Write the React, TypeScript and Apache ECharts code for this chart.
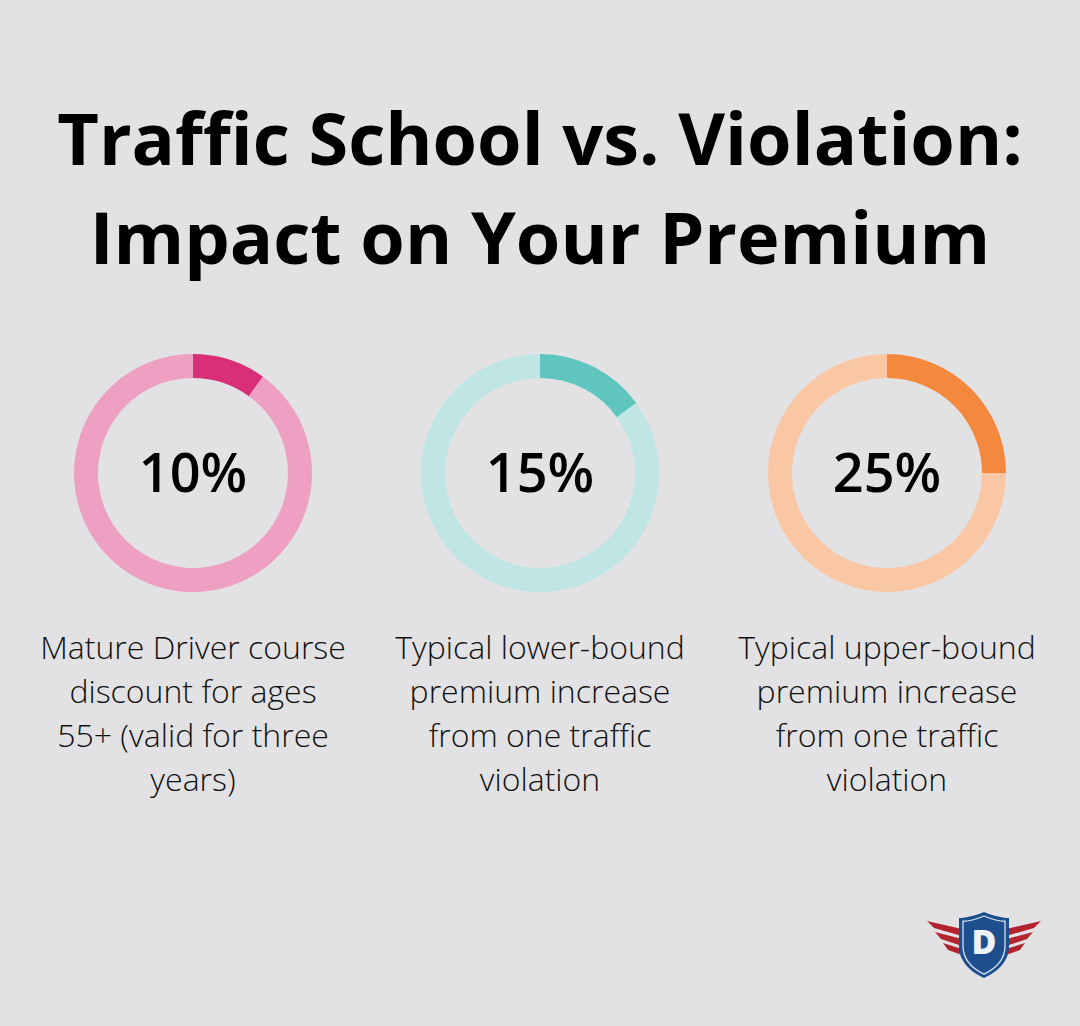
import React, { useEffect, useRef } from "react";
import * as echarts from "echarts";

const titleLines = ["Traffic School vs. Violation:", "Impact on Your Premium"];
const percents = [10, 15, 25];
const labels = ["10%", "15%", "25%"];
const descriptions = [
  ["Mature Driver course", "discount for ages", "55+ (valid for three", "years)"],
  ["Typical lower-bound", "premium increase", "from one traffic", "violation"],
  ["Typical upper-bound", "premium increase", "from one traffic", "violation"],
];
const darkColors = ["#d92e78", "#5fc6bf", "#f4883c"];
const lightColors = ["#eea0c3", "#bfe6e4", "#f9c7a4"];
const centersX = [193, 540, 887];

const shieldD =
  "M25 0 C35 4 45 6 50 6 L50 34 C50 50 38 60 25 66 C12 60 0 50 0 34 L0 6 C5 6 15 4 25 0 Z";

export default function App() {
  const ref = useRef<HTMLDivElement>(null);
  useEffect(() => {
    document.body.style.margin = "0";
    try {
      echarts.graphic.registerShape("shield", echarts.graphic.extendPath(shieldD as any, {}) as any);
    } catch (e) {}
    const chart = echarts.init(ref.current!, null, { renderer: "svg" });
    const series: any[] = percents.map((p, i) => ({
      type: "pie",
      center: [centersX[i], 473],
      radius: [95, 119],
      startAngle: 90,
      clockwise: true,
      silent: true,
      label: { show: false },
      labelLine: { show: false },
      data: [
        { value: p, itemStyle: { color: darkColors[i] } },
        { value: 100 - p, itemStyle: { color: lightColors[i] } },
      ],
    }));
    const graphics: any[] = [];
    titleLines.forEach((t, i) => {
      graphics.push({
        type: "text",
        x: 540,
        y: 137 + i * 99,
        style: {
          text: t,
          fontFamily: "Open Sans",
          fontWeight: 700,
          fontSize: 72,
          fill: "#000000",
          textAlign: "center",
          textVerticalAlign: "middle",
        },
      });
    });
    labels.forEach((t, i) => {
      graphics.push({
        type: "text",
        x: centersX[i],
        y: 471,
        style: {
          text: t,
          fontFamily: "Open Sans",
          fontWeight: 600,
          fontSize: 54,
          fill: "#000000",
          textAlign: "center",
          textVerticalAlign: "middle",
        },
      });
    });
    descriptions.forEach((lines, i) => {
      lines.forEach((l, j) => {
        graphics.push({
          type: "text",
          x: centersX[i],
          y: 646 + j * 44,
          style: {
            text: l,
            fontFamily: "Open Sans",
            fontWeight: 300,
            fontSize: 32,
            fill: "#111111",
            textAlign: "center",
            textVerticalAlign: "middle",
          },
        });
      });
    });
    // logo wings
    const wingColor = "#b3242e";
    const wingsL = [
      [[927, 921], [962, 929], [962, 936], [934, 928]],
      [[935, 932], [962, 939], [962, 946], [941, 939]],
      [[943, 943], [962, 949], [962, 955], [948, 950]],
    ];
    wingsL.forEach((pts) => {
      graphics.push({ type: "polygon", shape: { points: pts }, style: { fill: wingColor } });
      graphics.push({
        type: "polygon",
        shape: { points: pts.map(([x, y]) => [2 * 984 - x, y]) },
        style: { fill: wingColor },
      });
    });
    graphics.push({
      type: "shield",
      x: 959,
      y: 912,
      scaleX: 1,
      scaleY: 1,
      style: { fill: "#1d4f8e", stroke: "#e8eef6", lineWidth: 0 },
    });
    graphics.push({
      type: "shield",
      x: 963,
      y: 916,
      scaleX: 0.84,
      scaleY: 0.88,
      style: { fill: "none", stroke: "#dce6f2", lineWidth: 1.5 },
    });
    graphics.push({
      type: "text",
      x: 984,
      y: 941,
      style: {
        text: "D",
        fontFamily: "Open Sans",
        fontWeight: 800,
        fontSize: 34,
        fill: "#eef1f5",
        textAlign: "center",
        textVerticalAlign: "middle",
      },
    });
    chart.setOption({
      animation: false,
      backgroundColor: "#e2e2e4",
      series,
      graphic: graphics,
    });
    return () => chart.dispose();
  }, []);
  return <div ref={ref} style={{ width: 1080, height: 1026 }} />;
}
